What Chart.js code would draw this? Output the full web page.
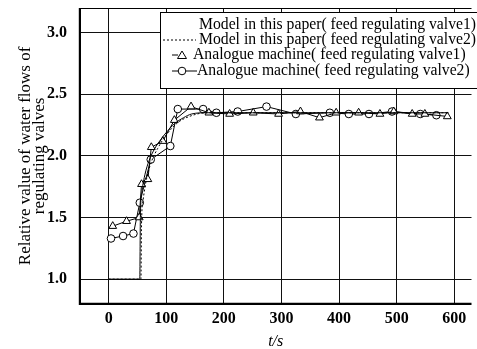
<!DOCTYPE html>
<html><head><meta charset="utf-8">
<script src="https://cdn.jsdelivr.net/npm/chart.js@4/dist/chart.umd.min.js"></script>
<style>html,body{margin:0;padding:0;background:#fff;}#wrap{width:477px;height:349px;}</style>
</head><body><div id="wrap"><canvas id="c" width="477" height="349"></canvas></div>
<script>
const seriesLabels = [
  "Model in this paper( feed regulating valve1)",
  "Model in this paper( feed regulating valve2)",
  "Analogue machine( feed regulating valve1)",
  "Analogue machine( feed regulating valve2)"
];
const tModel1 = [0, 54, 55, 58, 63, 70, 80, 90, 100, 114, 130, 144, 170, 250, 400, 590];
const vModel1 = [1.0, 1.0, 1.5, 1.72, 1.85, 1.96, 2.06, 2.13, 2.19, 2.26, 2.31, 2.34, 2.35, 2.35, 2.35, 2.35];
const tModel2 = [0, 56, 57, 60, 66, 74, 85, 100, 120, 140, 170, 250, 400, 590];
const vModel2 = [1.0, 1.0, 1.45, 1.65, 1.82, 1.95, 2.06, 2.17, 2.27, 2.32, 2.35, 2.35, 2.35, 2.35];
const tAnalog1 = [7, 31, 53, 57, 68, 74, 94, 114, 143, 174, 210, 251, 295, 333, 366, 395, 434, 471, 495, 527, 549, 588];
const vAnalog1 = [1.43, 1.47, 1.50, 1.77, 1.81, 2.07, 2.12, 2.29, 2.40, 2.35, 2.34, 2.35, 2.34, 2.36, 2.31, 2.35, 2.35, 2.34, 2.36, 2.34, 2.34, 2.32];
const tAnalog2 = [4, 25, 43, 54, 73, 107, 120, 164, 187, 224, 274, 325, 384, 417, 452, 492, 541, 569];
const vAnalog2 = [1.33, 1.35, 1.37, 1.62, 1.97, 2.08, 2.38, 2.38, 2.35, 2.36, 2.40, 2.34, 2.35, 2.34, 2.34, 2.36, 2.34, 2.33];
const xTicks = [0, 100, 200, 300, 400, 500, 600];
const yTicks = [1.0, 1.5, 2.0, 2.5, 3.0];

const pts = (t, v) => t.map((x, i) => ({x: x, y: v[i]}));
const serif = "'Liberation Serif', 'Times New Roman', serif";

const legendPlugin = {
  id: 'boxLegend',
  afterDraw(chart) {
    const ctx = chart.ctx;
    ctx.save();
    const x0 = 160, y0 = 12, w = 330, h = 76;
    ctx.fillStyle = '#fff';
    ctx.fillRect(x0, y0, w, h);
    ctx.strokeStyle = '#000';
    ctx.lineWidth = 1;
    ctx.strokeRect(x0 + 0.5, y0 + 0.5, w, h);
    ctx.font = '15.7px ' + serif;
    ctx.textBaseline = 'middle';
    ctx.fillStyle = '#000';
    const rows = [25, 40, 55, 71];
    chart.data.datasets.forEach((ds, i) => {
      const y = rows[i];
      ctx.strokeStyle = '#000';
      ctx.lineWidth = 1;
      ctx.setLineDash(ds.borderDash || []);
      if (i === 1) { ctx.beginPath(); ctx.moveTo(163, y); ctx.lineTo(196, y); ctx.stroke(); }
      if (i === 2) { ctx.beginPath(); ctx.moveTo(172, y); ctx.lineTo(178, y); ctx.stroke(); }
      if (i === 3) { ctx.beginPath(); ctx.moveTo(172, y); ctx.lineTo(197, y); ctx.stroke(); }
      ctx.setLineDash([]);
      if (i === 2) {
        ctx.beginPath(); ctx.moveTo(182, y - 4); ctx.lineTo(186.5, y + 3.5); ctx.lineTo(177.5, y + 3.5); ctx.closePath();
        ctx.fillStyle = '#fff'; ctx.fill(); ctx.stroke();
      }
      if (i === 3) {
        ctx.beginPath(); ctx.arc(182, y, 3.8, 0, Math.PI * 2);
        ctx.fillStyle = '#fff'; ctx.fill(); ctx.stroke();
      }
      ctx.fillStyle = '#000';
      ctx.fillText(ds.label, i === 2 ? 193 : (i === 3 ? 197 : 199), y);
    });
    ctx.restore();
  }
};

const frameTicks = {
  id: 'frame',
  afterDraw(chart) {
    const {ctx, chartArea: a} = chart;
    ctx.save();
    ctx.strokeStyle = '#000';
    ctx.lineWidth = 2.2;
    ctx.beginPath();
    ctx.moveTo(a.left, a.top); ctx.lineTo(a.left, a.bottom); ctx.lineTo(a.right, a.bottom);
    ctx.stroke();
    ctx.lineWidth = 1;
    ctx.beginPath(); ctx.moveTo(a.left, a.top + 0.5); ctx.lineTo(a.right, a.top + 0.5); ctx.stroke();
    ctx.restore();
  }
};

new Chart(document.getElementById('c'), {
  type: 'scatter',
  data: {
    datasets: [
      {label: seriesLabels[0], data: pts(tModel1, vModel1), showLine: true, borderColor: '#000', borderWidth: 1, pointRadius: 0, cubicInterpolationMode: 'monotone'},
      {label: seriesLabels[1], data: pts(tModel2, vModel2), showLine: true, borderColor: '#000', borderWidth: 1, borderDash: [2, 2], pointRadius: 0, cubicInterpolationMode: 'monotone'},
      {label: seriesLabels[2], data: pts(tAnalog1, vAnalog1), showLine: true, borderColor: '#000', borderWidth: 1, pointStyle: 'triangle', pointRadius: 4.5, pointBackgroundColor: '#fff', pointBorderColor: '#000', pointBorderWidth: 1},
      {label: seriesLabels[3], data: pts(tAnalog2, vAnalog2), showLine: true, borderColor: '#000', borderWidth: 1, pointStyle: 'circle', pointRadius: 3.8, pointBackgroundColor: '#fff', pointBorderColor: '#000', pointBorderWidth: 1}
    ]
  },
  options: {
    responsive: false,
    animation: false,
    layout: {padding: {left: 18, right: -1, top: 0, bottom: -2}},
    plugins: {legend: {display: false}, tooltip: {enabled: false}},
    scales: {
      x: {
        type: 'linear', min: -50, max: 630,
        afterBuildTicks: s => { s.ticks = xTicks.map(v => ({value: v})); },
        grid: {color: '#111', lineWidth: 1, drawTicks: true, tickLength: 7, tickColor: 'rgba(0,0,0,0)'},
        border: {display: false},
        ticks: {color: '#000', font: {family: serif, size: 16, weight: 'bold', lineHeight: 1}, padding: 0, maxRotation: 0, callback: v => String(v)},
        title: {display: true, text: 't/s', color: '#000', font: {family: serif, size: 16, style: 'italic'}, padding: {top: 5, bottom: 0}}
      },
      y: {
        type: 'linear', min: 0.8, max: 3.2,
        afterBuildTicks: s => { s.ticks = yTicks.map(v => ({value: v})); },
        grid: {color: '#111', lineWidth: 1, drawTicks: true, tickLength: 13, tickColor: 'rgba(0,0,0,0)'},
        border: {display: false},
        ticks: {color: '#000', font: {family: serif, size: 16, weight: 'bold', lineHeight: 1}, padding: 0, callback: v => v.toFixed(1)},
        title: {display: true, text: ['Relative value of water flows of', 'regulating valves'], color: '#000', font: {family: serif, size: 17, lineHeight: 0.85}, padding: {top: 0, bottom: 0}}
      }
    }
  },
  plugins: [frameTicks, legendPlugin]
});
</script>
</body></html>
